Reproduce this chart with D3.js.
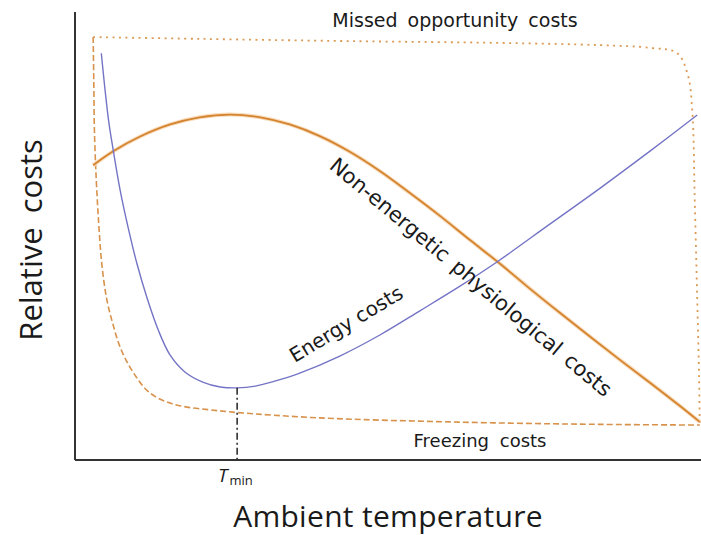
<!DOCTYPE html>
<meta charset="utf-8">
<style>
  body { margin: 0; background: #fff; }
  text { fill: #1a1a1a; }
</style>
<script src="https://d3js.org/d3.v7.min.js"></script>
<body>
<script>
// temperature (0-100) and relative cost (0-100)
var energyT    = [4.2, 4.8, 5.4, 6.1, 7.2, 8.5, 9.9, 11.5, 13.3, 15.2, 17.6, 20.4, 23.2, 25.9, 28.8, 31.9, 35.9, 42.3, 48.7, 55.1, 61.5, 67.4, 75.9, 83.9, 91.9, 99.4];
var energyCost = [90.8, 82.6, 75.4, 69.2, 60.3, 51.8, 43.8, 36.2, 29.0, 23.4, 19.6, 17.4, 16.3, 16.1, 16.5, 17.6, 19.4, 23.2, 27.9, 33.3, 38.8, 44.2, 52.7, 60.7, 69.0, 77.0];

var physT    = [2.9, 6.1, 10.4, 15.2, 19.9, 24.8, 29.6, 34.3, 39.1, 43.9, 48.7, 53.5, 58.3, 63.1, 67.9, 72.7, 77.5, 82.3, 87.1, 91.9, 96.6, 99.8];
var physCost = [65.8, 68.9, 72.2, 74.9, 76.5, 77.1, 76.5, 74.9, 72.3, 68.8, 64.5, 59.6, 54.5, 49.1, 43.8, 38.2, 32.8, 27.5, 22.3, 17.2, 12.1, 8.5];

var freezeT    = [2.9, 3.0, 3.1, 3.4, 3.8, 4.3, 5.1, 6.1, 7.2, 8.5, 9.9, 11.3, 12.9, 15.2, 17.9, 21.6, 25.9, 39.1, 59.9, 80.7, 99.8];
var freezeCost = [94.4, 84.8, 73.7, 62.5, 52.5, 43.5, 35.7, 30.1, 25.2, 21.4, 18.3, 15.8, 14.1, 12.7, 11.8, 11.2, 10.6, 9.4, 8.5, 8.0, 7.8];

var missedT    = [2.9, 20.0, 43.9, 67.9, 83.9, 91.9, 96.2, 97.9, 98.6, 99.0, 99.4, 99.7, 99.8];
var missedCost = [94.4, 94.0, 93.5, 93.1, 92.6, 92.0, 90.8, 85.9, 78.1, 58.0, 35.7, 17.9, 7.8];

var tMin = 25.9;
var tMinCost = 16.1;

var W = 701, H = 535;
var svg = d3.select("body").append("svg")
    .attr("width", W)
    .attr("height", H);

var x = d3.scaleLinear().domain([0, 100]).range([75, 701]);
var y = d3.scaleLinear().domain([0, 100]).range([460, 12]);

function pts(xs, ys) {
  return xs.map(function(d, i) { return [d, ys[i]]; });
}

var line = d3.line()
    .x(function(d) { return x(d[0]); })
    .y(function(d) { return y(d[1]); })
    .curve(d3.curveCatmullRom.alpha(0.5));

// missed opportunity costs (dotted)
svg.append("path")
    .attr("d", line(pts(missedT, missedCost)))
    .style("fill", "none")
    .style("stroke", "#dc9a55")
    .style("stroke-width", 1.8)
    .style("stroke-dasharray", "2,4.5");

// freezing costs (dashed)
svg.append("path")
    .attr("d", line(pts(freezeT, freezeCost)))
    .style("fill", "none")
    .style("stroke", "#d8924b")
    .style("stroke-width", 1.6)
    .style("stroke-dasharray", "6,3");

// non-energetic physiological costs: soft halo then line
svg.append("path")
    .attr("d", line(pts(physT, physCost)))
    .style("fill", "none")
    .style("stroke", "#f8dcbc")
    .style("stroke-width", 4);
svg.append("path")
    .attr("d", line(pts(physT, physCost)))
    .style("fill", "none")
    .style("stroke", "#d4842f")
    .style("stroke-width", 1.8);

// energy costs
svg.append("path")
    .attr("d", line(pts(energyT, energyCost)))
    .style("fill", "none")
    .style("stroke", "#7474c6")
    .style("stroke-width", 1.4);

// T_min marker
svg.append("line")
    .attr("x1", x(tMin)).attr("x2", x(tMin))
    .attr("y1", y(tMinCost)).attr("y2", y(0))
    .style("stroke", "#222")
    .style("stroke-width", 1.5)
    .style("stroke-dasharray", "7,3,2,3");

// axes
svg.append("line")
    .attr("x1", x(0)).attr("x2", x(100))
    .attr("y1", y(0)).attr("y2", y(0))
    .style("stroke", "#333").style("stroke-width", 2);
svg.append("line")
    .attr("x1", x(0)).attr("x2", x(0))
    .attr("y1", y(0)).attr("y2", y(100))
    .style("stroke", "#333").style("stroke-width", 2);

// labels
var tm = svg.append("text")
    .attr("x", 218)
    .attr("y", 482)
    .style("font-family", "'Open Sans', sans-serif");
tm.append("tspan").text("T").style("font-style", "italic").style("font-size", "19px");
tm.append("tspan").text("min").attr("dx", 2).attr("dy", 3).style("font-size", "13px");

svg.append("text")
    .attr("x", 455).attr("y", 27)
    .attr("text-anchor", "middle")
    .style("font-family", "'DejaVu Sans', sans-serif")
    .style("font-size", "19px")
    .style("word-spacing", "4px")
    .text("Missed opportunity costs");

svg.append("text")
    .attr("x", 480).attr("y", 447)
    .attr("text-anchor", "middle")
    .style("font-family", "'DejaVu Sans', sans-serif")
    .style("font-size", "18px")
    .style("word-spacing", "5px")
    .text("Freezing costs");

svg.append("text")
    .attr("transform", "translate(346,324) rotate(-31)")
    .attr("text-anchor", "middle")
    .attr("dy", "0.35em")
    .style("font-family", "'DejaVu Sans', sans-serif")
    .style("font-size", "20px")
    .text("Energy costs");

svg.append("text")
    .attr("transform", "translate(471,277) rotate(39.8)")
    .attr("text-anchor", "middle")
    .attr("dy", "0.35em")
    .style("font-family", "'DejaVu Sans', sans-serif")
    .style("font-size", "21px")
    .style("word-spacing", "3px")
    .text("Non-energetic physiological costs");

svg.append("text")
    .attr("transform", "translate(42,240) rotate(-90)")
    .attr("text-anchor", "middle")
    .style("font-family", "'Open Sans', sans-serif")
    .style("font-size", "31px")
    .style("word-spacing", "6px")
    .text("Relative costs");

svg.append("text")
    .attr("x", 388).attr("y", 527)
    .attr("text-anchor", "middle")
    .style("font-family", "'Open Sans', sans-serif")
    .style("font-size", "30px")
    .style("letter-spacing", "0.3px")
    .text("Ambient temperature");
</script>
</body>
